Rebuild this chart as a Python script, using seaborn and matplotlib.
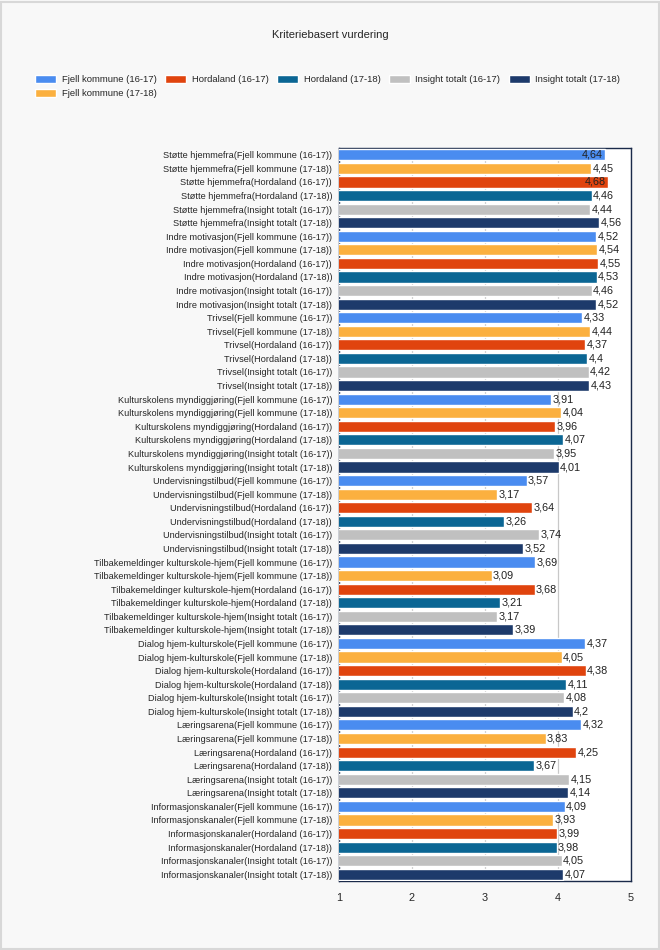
import pandas as pd
import matplotlib.pyplot as plt
import seaborn as sns

# Categories and series
categories = ["Støtte hjemmefra", "Indre motivasjon", "Trivsel",
              "Kulturskolens myndiggjøring", "Undervisningstilbud",
              "Tilbakemeldinger kulturskole-hjem", "Dialog hjem-kulturskole",
              "Læringsarena", "Informasjonskanaler"]
series = ["Fjell kommune (16-17)", "Fjell kommune (17-18)", "Hordaland (16-17)",
          "Hordaland (17-18)", "Insight totalt (16-17)", "Insight totalt (17-18)"]

# Values, one list per category in series order
stotte = [4.64, 4.45, 4.68, 4.46, 4.44, 4.56]
indre = [4.52, 4.54, 4.55, 4.53, 4.46, 4.52]
trivsel = [4.33, 4.44, 4.37, 4.4, 4.42, 4.43]
myndig = [3.91, 4.04, 3.96, 4.07, 3.95, 4.01]
underv = [3.57, 3.17, 3.64, 3.26, 3.74, 3.52]
tilbake = [3.69, 3.09, 3.68, 3.21, 3.17, 3.39]
dialog = [4.37, 4.05, 4.38, 4.11, 4.08, 4.2]
laering = [4.32, 3.83, 4.25, 3.67, 4.15, 4.14]
info = [4.09, 3.93, 3.99, 3.98, 4.05, 4.07]
values = [stotte, indre, trivsel, myndig, underv, tilbake, dialog, laering, info]

colors = ["#4a8cf0", "#fbb03f", "#e0440e", "#0b6694", "#c0c0c0", "#1d3a6b"]

rows = []
for cat, vals in zip(categories, values):
    for s, v in zip(series, vals):
        rows.append({"label": f"{cat}({s})", "series": s, "value": v})
df = pd.DataFrame(rows)

sns.set_style("white")
plt.rcParams['font.family'] = ['Liberation Sans', 'DejaVu Sans']

fig = plt.figure(figsize=(6.6, 9.5), dpi=100, facecolor="#f8f8f8")
ax = fig.add_axes([0.5136, 0.0726, 0.4424, 0.7716])
ax.set_facecolor("white")

sns.barplot(data=df, y="label", x="value", hue="series", hue_order=series,
            palette=colors, dodge=False, orient="h", width=0.82, ax=ax,
            saturation=1, zorder=3)

ax.set_xlim(1, 5)
ax.set_xticks([1, 2, 3, 4, 5])
ax.set_ylim(len(df) - 0.5, -0.5)
ax.set_axisbelow(True)
ax.grid(axis="x", color="#c8c8c8", lw=0.9, linestyle="-")
ax.set_xlabel("")
ax.set_ylabel("")
ax.tick_params(axis="y", labelsize=6.6, length=4, color="#333333", pad=1)
ax.tick_params(axis="x", labelsize=7.8, length=5, color="#222222", direction="out")
for sp in ax.spines.values():
    sp.set_color("#1a2a4a")
    sp.set_linewidth(1)

# value labels
for i, v in enumerate(df["value"]):
    txt = f"{v:g}".replace(".", ",")
    if v + 0.4 > 5:
        ax.text(v - 0.02, i, txt, va="center", ha="right", fontsize=7.8,
                color="#222222", zorder=4)
    else:
        ax.text(v + 0.02, i, txt, va="center", ha="left", fontsize=7.8,
                color="#222222", zorder=4)

handles, labels = ax.get_legend_handles_labels()
ax.legend_.remove()
fig.legend(handles, labels, ncol=5, loc="upper left", bbox_to_anchor=(0.048, 0.925),
           frameon=False, fontsize=6.8, handlelength=2.2, handleheight=1.0,
           columnspacing=0.9, labelspacing=0.45, handletextpad=0.6,
           borderaxespad=0)

fig.text(0.5, 0.963, "Kriteriebasert vurdering", ha="center", va="center",
         fontsize=8)

# light outer frame
fig.patches.append(plt.Rectangle((0.002, 0.001), 0.996, 0.997, transform=fig.transFigure,
                                 fill=False, edgecolor="#d8d8d8", lw=1.5))

fig.savefig("out.png", dpi=100, facecolor=fig.get_facecolor())
